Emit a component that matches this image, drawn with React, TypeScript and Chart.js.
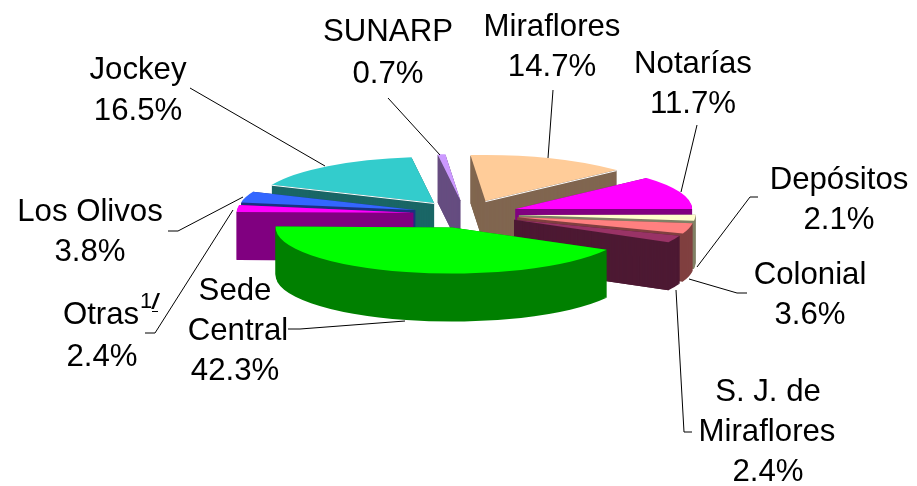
import { useEffect, useRef } from "react";
import { Chart, registerables } from "chart.js";

Chart.register(...registerables);

// ---- data ----
const categories = ["Miraflores", "Notarías", "Depósitos", "Colonial", "S. J. de Miraflores", "Sede Central", "Otras", "Los Olivos", "Jockey", "SUNARP"];
const shares = [14.7, 11.7, 2.1, 3.6, 2.4, 42.3, 2.4, 3.8, 16.5, 0.7];
const topColors = ["#FFCC99", "#FF00FF", "#FFFFCC", "#FF8080", "#993366", "#00FF00", "#FF00FF", "#3366FF", "#33CCCC", "#CC99FF"];
const wallColors = ["#806650", "#800080", "#808066", "#804040", "#4D1933", "#008000", "#800080", "#1A3380", "#1A6666", "#664D80"];
// painter's order, back to front
const drawOrder = [9, 8, 0, 7, 1, 6, 2, 3, 4, 5];
// slices whose front cut edge carries a thin white highlight
const highlightEnd = ["Miraflores"];
const highlightStart = ["Jockey"];

// ---- oblique view of the pie ----
const VIEW_CENTER = { x: 466, y: 214 };
const VIEW_MATRIX = { xx: 176, xy: 15, yx: -4, yy: 46 };
const EXPLOSION = 0.3;
const DEPTH = 48;

// ---- annotation text ----
const FONT_SIZE = 31.2;
const FONT_FAMILY = '"Liberation Sans", Arial, sans-serif';
const labelLines: [string, number, number][] = [
  ["Jockey", 138, 70], ["16.5%", 138, 111],
  ["SUNARP", 388, 32], ["0.7%", 388, 74],
  ["Miraflores", 552, 27], ["14.7%", 552, 67],
  ["Notarías", 693, 64], ["11.7%", 693, 104],
  ["Depósitos", 839, 180], ["2.1%", 839, 220],
  ["Colonial", 810, 275], ["3.6%", 810, 315],
  ["S. J. de", 768, 392], ["Miraflores", 767, 432], ["2.4%", 768, 472],
  ["Sede", 235, 291], ["Central", 238, 331], ["42.3%", 235, 371],
  ["Otras", 101, 315], ["2.4%", 102, 357],
  ["Los Olivos", 90, 212], ["3.8%", 90, 252],
];
const leaderLines: [number, number][][] = [
  [[190, 88], [325, 166]],
  [[388, 98], [440, 155]],
  [[553, 90], [548, 158]],
  [[697, 125], [681, 192]],
  [[758, 197], [750, 197], [697, 267]],
  [[747, 293], [737, 293], [689, 279]],
  [[676, 290], [684, 432], [692, 432]],
  [[288, 329], [300, 329], [405, 321]],
  [[168, 231], [178, 231], [243, 197]],
  [[145, 333], [155, 333], [233, 210]],
];

const piePlugin = {
  id: "obliquePie",
  beforeDatasetsDraw(chart: any) {
    const ctx: CanvasRenderingContext2D = chart.ctx;
    const arcs = chart.getDatasetMeta(0).data;
    const { xx, xy, yx, yy } = VIEW_MATRIX;
    for (const index of drawOrder) {
      const arc = arcs[index];
      const r = arc.outerRadius;
      const a = xx / r, b = yx / r, c = xy / r, d = yy / r;
      const mid = (arc.startAngle + arc.endAngle) / 2;
      const apexX = VIEW_CENTER.x + EXPLOSION * (xx * Math.cos(mid) + xy * Math.sin(mid));
      const apexY = VIEW_CENTER.y + EXPLOSION * (yx * Math.cos(mid) + yy * Math.sin(mid));
      const rim = (angle: number): [number, number] => [
        apexX + xx * Math.cos(angle) + xy * Math.sin(angle),
        apexY + yx * Math.cos(angle) + yy * Math.sin(angle),
      ];
      const e = apexX - (a * arc.x + c * arc.y);
      const f = apexY - (b * arc.x + d * arc.y);
      const original = arc.options;
      ctx.save();
      // cut faces: solid quads, so thin slices leave no gaps in their walls
      ctx.fillStyle = wallColors[index];
      for (const angle of [arc.startAngle, arc.endAngle]) {
        const [rx, ry] = rim(angle);
        ctx.beginPath();
        ctx.moveTo(apexX, apexY);
        ctx.lineTo(rx, ry);
        ctx.lineTo(rx, ry + DEPTH);
        ctx.lineTo(apexX, apexY + DEPTH);
        ctx.closePath();
        ctx.fill();
      }
      // rounded rim: the slice swept down through the depth
      arc.options = { ...original, backgroundColor: wallColors[index] };
      for (let dy = DEPTH; dy >= 1; dy--) {
        ctx.setTransform(a, b, c, d, e, f + dy);
        arc.draw(ctx);
      }
      arc.options = original;
      // top face
      ctx.setTransform(a, b, c, d, e, f);
      arc.draw(ctx);
      ctx.setTransform(1, 0, 0, 1, 0, 0);
      const edge = highlightEnd.includes(categories[index]) ? arc.endAngle
        : highlightStart.includes(categories[index]) ? arc.startAngle : null;
      if (edge !== null) {
        const [rx, ry] = rim(edge);
        ctx.strokeStyle = "#FFFFFF";
        ctx.lineWidth = 1;
        ctx.beginPath();
        ctx.moveTo(apexX, apexY + 0.5);
        ctx.lineTo(rx, ry + 0.5);
        ctx.stroke();
      }
      ctx.restore();
    }
    return false;
  },
  afterDraw(chart: any) {
    const ctx: CanvasRenderingContext2D = chart.ctx;
    ctx.save();
    ctx.strokeStyle = "#000000";
    ctx.lineWidth = 1;
    for (const line of leaderLines) {
      ctx.beginPath();
      line.forEach(([x, y], i) => (i ? ctx.lineTo(x, y) : ctx.moveTo(x, y)));
      ctx.stroke();
    }
    ctx.fillStyle = "#000000";
    ctx.textAlign = "center";
    ctx.textBaseline = "middle";
    ctx.font = `${FONT_SIZE}px ${FONT_FAMILY}`;
    for (const [text, x, y] of labelLines) ctx.fillText(text, x, y);
    // footnote mark after "Otras"
    ctx.textAlign = "left";
    ctx.textBaseline = "alphabetic";
    ctx.font = `22px ${FONT_FAMILY}`;
    ctx.fillText("1", 140, 308);
    ctx.font = `italic bold 22px ${FONT_FAMILY}`;
    ctx.fillText("/", 152, 309);
    ctx.fillRect(152, 311, 6, 1);
    ctx.restore();
  },
};

export default function App() {
  const ref = useRef<HTMLCanvasElement>(null);
  useEffect(() => {
    const chart = new Chart(ref.current!, {
      type: "pie",
      data: {
        labels: categories,
        datasets: [{ data: shares, backgroundColor: topColors, borderWidth: 0 }],
      },
      options: {
        animation: false,
        responsive: false,
        plugins: { legend: { display: false }, tooltip: { enabled: false } },
      },
      plugins: [piePlugin],
    });
    return () => chart.destroy();
  }, []);
  return (
    <div style={{ position: "absolute", left: 0, top: 0, width: 917, height: 486, overflow: "hidden", background: "#fff" }}>
      <canvas ref={ref} width={917} height={486} style={{ display: "block" }} />
    </div>
  );
}
